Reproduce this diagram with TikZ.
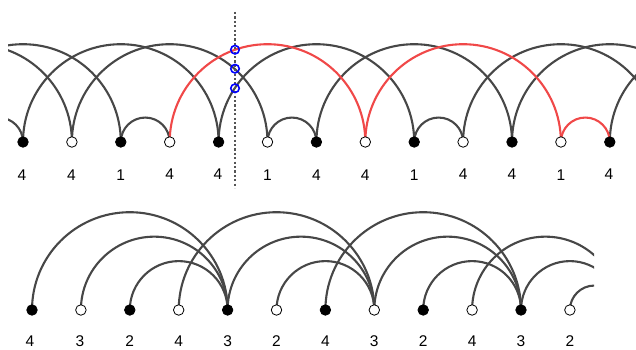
\documentclass[tikz,border=0pt]{standalone}
\usepackage{fontspec}
\setmainfont{Liberation Sans}
\usetikzlibrary{calc,backgrounds}
\definecolor{arcgray}{HTML}{474747}
\definecolor{arcred}{HTML}{F04848}
\definecolor{cutgray}{HTML}{555555}

\begin{document}
\begin{tikzpicture}[x=1pt,y=1pt,
    black vertex/.style={circle,draw,fill=black,minimum size=10.5pt,inner sep=0pt,line width=0.8pt},
    white vertex/.style={black vertex,fill=white},
    cross/.style={circle,draw=blue,minimum size=8.5pt,inner sep=0pt,line width=1.6pt},
    lab/.style={font=\fontsize{15.5}{18}\selectfont,inner sep=0pt},
    link/.style={arcgray,line width=2.1pt},
    red link/.style={link,arcred},
    cutline/.style={cutgray,line width=2.4pt,dash pattern=on 2.2pt off 2.2pt},
    semi/.style={to path={let \p1=(\tikztostart), \p2=(\tikztotarget) in
      arc[start angle=180,end angle=0,radius={0.5*(\x2-\x1)}]}}]
\useasboundingbox (0,0) rectangle (636,349);

\node[black vertex] (t1) at (23,207) {};
\node[white vertex] (t2) at (71.9,207) {};
\node[black vertex] (t3) at (120.8,207) {};
\node[white vertex] (t4) at (169.7,207) {};
\node[black vertex] (t5) at (218.6,207) {};
\node[white vertex] (t6) at (267.5,207) {};
\node[black vertex] (t7) at (316.4,207) {};
\node[white vertex] (t8) at (365.3,207) {};
\node[black vertex] (t9) at (414.2,207) {};
\node[white vertex] (t10) at (463.1,207) {};
\node[black vertex] (t11) at (512,207) {};
\node[white vertex] (t12) at (560.9,207) {};
\node[black vertex] (t13) at (609.8,207) {};
\coordinate (l3) at (-123.7,207);
\coordinate (l2) at (-74.8,207);
\coordinate (l1) at (-25.9,207);
\coordinate (r1) at (658.7,207);
\coordinate (r2) at (707.6,207);
\coordinate (r4) at (805.4,207);

\node[lab] (lt1) at (22,174) {4};
\node[lab] (lt2) at (71.5,174) {4};
\node[lab] (lt3) at (120.8,174) {1};
\node[lab] (lt4) at (169.7,175) {4};
\node[lab] (lt5) at (218,175) {4};
\node[lab] (lt6) at (267.5,174) {1};
\node[lab] (lt7) at (316.4,174) {4};
\node[lab] (lt8) at (365.3,174) {4};
\node[lab] (lt9) at (414.2,174) {1};
\node[lab] (lt10) at (463.1,175) {4};
\node[lab] (lt11) at (512,175) {4};
\node[lab] (lt12) at (560.9,174) {1};
\node[lab] (lt13) at (609,175) {4};

\node[black vertex] (b1) at (32,39) {};
\node[white vertex] (b2) at (80.9,39) {};
\node[black vertex] (b3) at (129.8,39) {};
\node[white vertex] (b4) at (178.7,39) {};
\node[black vertex] (b5) at (227.6,39) {};
\node[white vertex] (b6) at (276.5,39) {};
\node[black vertex] (b7) at (325.4,39) {};
\node[white vertex] (b8) at (374.3,39) {};
\node[black vertex] (b9) at (423.2,39) {};
\node[white vertex] (b10) at (472.1,39) {};
\node[black vertex] (b11) at (521,39) {};
\node[white vertex] (b12) at (569.9,39) {};
\coordinate (b13) at (618.8,39);

\node[lab] (lb1) at (30,8) {4};
\node[lab] (lb2) at (80,8) {3};
\node[lab] (lb3) at (129.8,8) {2};
\node[lab] (lb4) at (178.7,8) {4};
\node[lab] (lb5) at (227.6,8) {3};
\node[lab] (lb6) at (276.5,8) {2};
\node[lab] (lb7) at (325.4,8) {4};
\node[lab] (lb8) at (374.3,8) {3};
\node[lab] (lb9) at (423.2,8) {2};
\node[lab] (lb10) at (472.1,8) {4};
\node[lab] (lb11) at (521,8) {3};
\node[lab] (lb12) at (569.9,8) {2};

\begin{pgfonlayer}{background}
\begin{scope}
\clip (8,100) rectangle (636,349);
\draw[link] (l3) to[semi] (t2.center);
\draw[link] (l2) to[semi] (t3.center);
\draw[link] (l1) to[semi] (t1.center);
\draw[link] (t1.center) to[semi] (t5.center);
\draw[link] (t2.center) to[semi] (t6.center);
\draw[link] (t3.center) to[semi] (t4.center);
\draw[link] (t5.center) to[semi] (t9.center);
\draw[link] (t6.center) to[semi] (t7.center);
\draw[link] (t7.center) to[semi] (t11.center);
\draw[link] (t9.center) to[semi] (t10.center);
\draw[link] (t10.center) to[semi] (r1);
\draw[link] (t11.center) to[semi] (r2);
\draw[link] (t13.center) to[semi] (r4);
\draw[red link] (t4.center) to[semi] (t8.center);
\draw[red link] (t8.center) to[semi] (t12.center);
\draw[red link] (t12.center) to[semi] (t13.center);
\end{scope}
\begin{scope}
\clip (0,0) rectangle (594,160);
\draw[link] (b1.center) to[semi] (b5.center);
\draw[link] (b2.center) to[semi] (b5.center);
\draw[link] (b3.center) to[semi] (b5.center);
\draw[link] (b4.center) to[semi] (b8.center);
\draw[link] (b5.center) to[semi] (b8.center);
\draw[link] (b6.center) to[semi] (b8.center);
\draw[link] (b7.center) to[semi] (b11.center);
\draw[link] (b8.center) to[semi] (b11.center);
\draw[link] (b9.center) to[semi] (b11.center);
\draw[link] (b10.center) to[semi] (b13);
\draw[link] (b11.center) to[semi] (b13);
\draw[link] (b12.center) to[semi] (b13);
\end{scope}
\end{pgfonlayer}

\coordinate (cut top) at (235,337);
\coordinate (cut bottom) at (235,161);
\draw[cutline] (cut top) -- (cut bottom);
\node[cross] (x1) at (235,299.3) {};
\node[cross] (x2) at (235,280.3) {};
\node[cross] (x3) at (235,260.7) {};
\end{tikzpicture}
\end{document}
